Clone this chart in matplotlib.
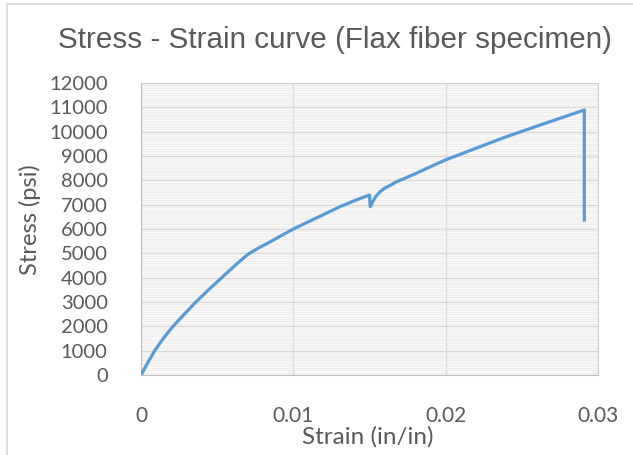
import matplotlib.pyplot as plt
from matplotlib.patches import Rectangle
from matplotlib.ticker import MultipleLocator

# values
strain = [0, 0.0005, 0.0009, 0.0015, 0.0021, 0.0028, 0.0036, 0.0044, 0.0053,
          0.0062, 0.0070, 0.0076, 0.0085, 0.0093, 0.0100, 0.0108, 0.0115,
          0.0123, 0.0130, 0.0140, 0.0150, 0.01505, 0.0152, 0.0154, 0.0157,
          0.0160, 0.0164, 0.0168, 0.0173, 0.0180, 0.0190, 0.0200, 0.0215,
          0.0238, 0.0260, 0.0291, 0.0291]
stress = [0, 570, 1000, 1530, 2000, 2470, 3000, 3480, 4000,
          4520, 4950, 5180, 5480, 5760, 6000, 6240, 6450,
          6690, 6900, 7160, 7400, 6920, 7100, 7330, 7535,
          7680, 7810, 7950, 8080, 8270, 8560, 8840, 9200,
          9750, 10230, 10890, 6370]
xticks = [0, 0.01, 0.02, 0.03]
xlabels = ["0", "0.01", "0.02", "0.03"]
yticks = list(range(0, 12001, 1000))

fig = plt.figure(figsize=(6.33, 4.55), dpi=100)
ax = fig.add_axes([141/633, 1-375/455, (598-141)/633, (375-83)/455])

ax.plot(strain, stress, color="#5B9BD5", lw=2.3, solid_joinstyle="round", zorder=3)

ax.set_xlim(0, 0.03)
ax.set_ylim(0, 12000)
ax.set_xticks(xticks)
ax.set_xticklabels(xlabels)
ax.set_yticks(yticks)
ax.yaxis.set_minor_locator(MultipleLocator(100))
ax.set_facecolor("#f7f7f7")
ax.grid(which="major", color="#d9d9d9", lw=1.0, zorder=1)
ax.grid(which="minor", axis="y", color="#ebebeb", lw=0.5, zorder=0)
ax.set_axisbelow(True)
ax.tick_params(which="both", length=0)
ax.tick_params(axis="y", pad=24, labelsize=14.5, labelcolor="#595959")
ax.tick_params(axis="x", pad=22, labelsize=15, labelcolor="#595959")
for lab in ax.get_xticklabels() + ax.get_yticklabels():
    lab.set_family("Lato")
for s in ax.spines.values():
    s.set_color("#d0d0d0")
ax.spines["left"].set_color("#bfbfbf")
ax.spines["bottom"].set_color("#bfbfbf")

fig.text(335/633, 1-40/455, "Stress - Strain curve (Flax fiber specimen)", ha="center",
         va="center", fontsize=21.3, color="#595959", family="Liberation Sans")
fig.text(368/633, 1-437/455, "Strain (in/in)", ha="center", va="center",
         fontsize=17.5, color="#595959", family="Lato")
fig.text(30/633, 1-220/455, "Stress (psi)", ha="center", va="center", rotation=90,
         fontsize=17, color="#595959", family="Lato")

fig.patches.append(Rectangle((7/633, -0.1), 1.2, 1-4/455+0.1, transform=fig.transFigure,
                             fill=False, edgecolor="#d9d9d9", lw=1.2))

fig.savefig("out.png", dpi=100)
